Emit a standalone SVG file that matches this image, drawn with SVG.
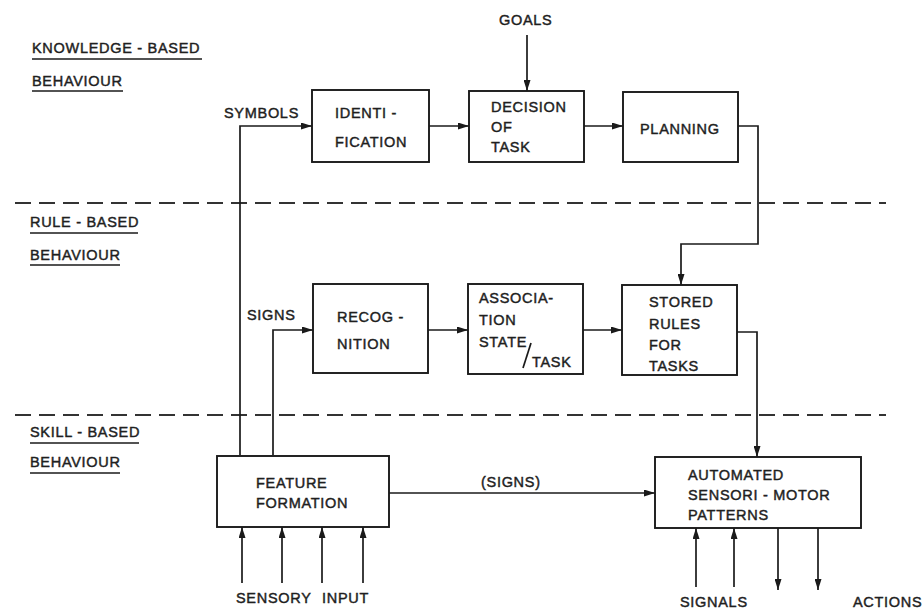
<svg xmlns="http://www.w3.org/2000/svg" width="923" height="612" viewBox="0 0 923 612">
<defs>
<marker id="arr" viewBox="0 0 11 7" refX="11" refY="3.5" markerWidth="11" markerHeight="7" markerUnits="userSpaceOnUse" orient="auto">
<path d="M0,0 L11,3.5 L0,7 z" fill="#1a1a1a"/>
</marker>
</defs>
<style>
text{font-family:"Liberation Sans","DejaVu Sans",sans-serif;font-size:14.5px;letter-spacing:0.7px;fill:#1f1f1f;stroke:#1f1f1f;stroke-width:0.45;}
.box{fill:#fff;stroke:#1a1a1a;stroke-width:1.9;}
.ln{fill:none;stroke:#1a1a1a;stroke-width:1.7;}
.dash{fill:none;stroke:#333;stroke-width:1.9;stroke-dasharray:16,8;}
.ul{stroke:#1a1a1a;stroke-width:1.7;}
</style>
<rect width="923" height="612" fill="#fff"/>

<g id="levels">
<line class="dash" x1="15" y1="203" x2="886" y2="203"/>
<line class="dash" x1="15" y1="415" x2="886" y2="415"/>
<text x="32" y="53">KNOWLEDGE - BASED</text>
<line class="ul" x1="32" y1="59" x2="202" y2="59"/>
<text x="32" y="86">BEHAVIOUR</text>
<line class="ul" x1="32" y1="91" x2="123" y2="91"/>
<text x="30" y="227">RULE - BASED</text>
<line class="ul" x1="30" y1="233" x2="138" y2="233"/>
<text x="30" y="260">BEHAVIOUR</text>
<line class="ul" x1="30" y1="265" x2="120" y2="265"/>
<text x="30" y="437">SKILL - BASED</text>
<line class="ul" x1="30" y1="443" x2="139" y2="443"/>
<text x="30" y="467">BEHAVIOUR</text>
<line class="ul" x1="30" y1="473" x2="120" y2="473"/>
</g>

<g id="connectors">
<polyline class="ln" points="240,455 240,126 312,126" marker-end="url(#arr)"/>
<polyline class="ln" points="273,455 273,330 313,330" marker-end="url(#arr)"/>
<line class="ln" x1="429" y1="126" x2="469" y2="126" marker-end="url(#arr)"/>
<line class="ln" x1="584" y1="126" x2="623" y2="126" marker-end="url(#arr)"/>
<line class="ln" x1="527" y1="35" x2="527" y2="91" marker-end="url(#arr)"/>
<polyline class="ln" points="738,126 758,126 758,244 681,244 681,285" marker-end="url(#arr)"/>
<line class="ln" x1="428" y1="330" x2="468" y2="330" marker-end="url(#arr)"/>
<line class="ln" x1="583" y1="330" x2="622" y2="330" marker-end="url(#arr)"/>
<polyline class="ln" points="737,332 757,332 757,457" marker-end="url(#arr)"/>
<line class="ln" x1="389" y1="493" x2="655" y2="493" marker-end="url(#arr)"/>
<line class="ln" x1="242" y1="583" x2="242" y2="527" marker-end="url(#arr)"/>
<line class="ln" x1="282" y1="583" x2="282" y2="527" marker-end="url(#arr)"/>
<line class="ln" x1="322" y1="583" x2="322" y2="527" marker-end="url(#arr)"/>
<line class="ln" x1="363" y1="583" x2="363" y2="527" marker-end="url(#arr)"/>
<line class="ln" x1="696" y1="587" x2="696" y2="528" marker-end="url(#arr)"/>
<line class="ln" x1="734" y1="587" x2="734" y2="528" marker-end="url(#arr)"/>
<line class="ln" x1="778" y1="528" x2="778" y2="590" marker-end="url(#arr)"/>
<line class="ln" x1="818" y1="528" x2="818" y2="590" marker-end="url(#arr)"/>
<text x="224" y="118">SYMBOLS</text>
<text x="247" y="320">SIGNS</text>
<text x="499" y="25">GOALS</text>
<text x="481" y="487">(SIGNS)</text>
<text x="236" y="603">SENSORY</text>
<text x="322" y="603">INPUT</text>
<text x="680" y="607">SIGNALS</text>
<text x="853" y="607">ACTIONS</text>
</g>

<g id="identification">
<rect class="box" x="312" y="90" width="117" height="72"/>
<text x="335" y="118">IDENTI -</text>
<text x="335" y="147">FICATION</text>
</g>
<g id="decision">
<rect class="box" x="469" y="91" width="115" height="71"/>
<text x="491" y="112">DECISION</text>
<text x="491" y="132">OF</text>
<text x="491" y="152">TASK</text>
</g>
<g id="planning">
<rect class="box" x="623" y="92" width="115" height="70"/>
<text x="640" y="134">PLANNING</text>
</g>
<g id="recognition">
<rect class="box" x="313" y="284" width="115" height="89"/>
<text x="337" y="322">RECOG -</text>
<text x="337" y="349">NITION</text>
</g>
<g id="association">
<rect class="box" x="468" y="284" width="115" height="90"/>
<text x="479" y="303">ASSOCIA-</text>
<text x="479" y="325">TION</text>
<text x="479" y="347">STATE</text>
<line class="ln" x1="523" y1="368" x2="531" y2="343"/>
<text x="532" y="367">TASK</text>
</g>
<g id="stored-rules">
<rect class="box" x="622" y="285" width="115" height="90"/>
<text x="649" y="307">STORED</text>
<text x="649" y="329">RULES</text>
<text x="649" y="350">FOR</text>
<text x="649" y="371">TASKS</text>
</g>
<g id="feature-formation">
<rect class="box" x="217" y="456" width="172" height="71"/>
<text x="256" y="488">FEATURE</text>
<text x="256" y="508">FORMATION</text>
</g>
<g id="automated">
<rect class="box" x="655" y="457" width="206" height="71"/>
<text x="688" y="480">AUTOMATED</text>
<text x="688" y="500">SENSORI - MOTOR</text>
<text x="688" y="520">PATTERNS</text>
</g>
</svg>
